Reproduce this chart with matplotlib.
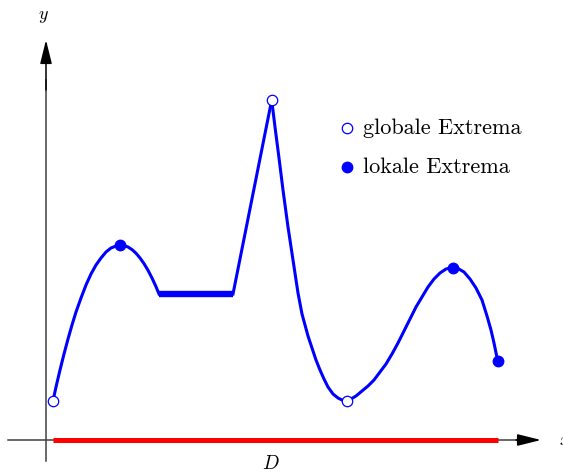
#! /usr/bin/python

"""
Extrema of a function on its domain D: global and local extrema.
"""

# LIBRARIES
import matplotlib as mpl
mpl.use("Agg")
import matplotlib.pyplot as plt



# DATA (origin = crossing of the axes)
rise_x = [7, 10, 14, 18, 22, 26, 30, 35, 40, 45, 50, 55, 60, 65, 70, 74,
          78, 82, 86, 90, 94, 98, 102, 106, 110, 113]
rise_y = [39, 53, 70, 86, 101, 115, 128, 142, 155, 166, 175, 182, 188, 192, 194, 195,
          194.5, 193, 190.4, 186.8, 182, 176.4, 169.7, 162, 153.3, 146]

plateau_x = [113, 187]
plateau_y = [146, 146]

peak_x = [187, 225.7]
peak_y = [146, 340]

fall_x = [225.7, 229, 233, 237, 242, 247, 252, 256, 259, 262, 266, 270, 274,
          278, 282, 287, 292, 296, 300.7,
          305, 310, 316, 322, 328, 334, 340, 346, 352, 358, 364, 370, 376,
          382, 388, 394, 400, 406.7, 412, 418, 424, 430, 436, 441, 445, 448, 451.7]
fall_y = [340, 313, 282, 250, 213, 180, 147, 126, 115, 104, 92, 80, 70,
          61, 53, 46, 42, 40, 39.5,
          41, 44, 49, 54, 60, 68, 76, 86, 97, 109, 121, 133, 143,
          153, 161, 167, 171, 172.5, 171.5, 168, 161, 152, 140, 124, 110, 97, 79]

global_x = [7, 225.7, 300.7]
global_y = [39, 340, 39.5]

local_x = [74, 406.7, 451.7]
local_y = [195, 172.5, 79]

domain_x = [7, 451.7]
domain_y = [0, 0]

legend_labels = ["globale Extrema", "lokale Extrema"]



def arrow(ax, start, end):

    """
    Draw an axis with a black arrow head.
    """

    ax.annotate("", xy = end, xytext = start,
                arrowprops = dict(arrowstyle = "-|>,head_length=1.45,head_width=0.36",
                                  mutation_scale = 10, lw = 1.1, color = "#404040",
                                  fc = "black", ec = "black", shrinkA = 0, shrinkB = 0))



def main():

    mpl.rcParams["mathtext.fontset"] = "cm"

    fig = plt.figure(figsize = (5.63, 4.73), dpi = 100)
    ax = fig.add_axes([0, 0, 1, 1])
    ax.set_xlim(-46, 517)
    ax.set_ylim(-33, 440)
    ax.axis("off")

    # Axes
    ax.plot([-38, 480], [0, 0], c = "#404040", lw = 1.1)
    ax.plot([0, 0], [-21, 360], c = "#404040", lw = 1.1)
    arrow(ax, (470, 0), (495, 0))
    arrow(ax, (0, 350), (0, 400))

    ax.text(-3, 424, "$y$", fontsize = 13, ha = "center", va = "center")
    ax.text(513, 0, "$x$", fontsize = 13, ha = "left", va = "center")
    ax.text(225, -23, "$D$", fontsize = 14, ha = "center", va = "center")

    # Domain
    ax.plot(domain_x, domain_y, c = "red", lw = 3.6, solid_capstyle = "butt")

    # Function
    ax.plot(rise_x, rise_y, c = "blue", lw = 2.2)
    ax.plot(plateau_x, plateau_y, c = "blue", lw = 4.6, solid_capstyle = "butt")
    ax.plot(peak_x, peak_y, c = "blue", lw = 2.2)
    ax.plot(fall_x, fall_y, c = "blue", lw = 2.2)

    # Extrema
    ax.plot(global_x, global_y, ls = "none", marker = "o", ms = 7.5,
            mfc = "white", mec = "blue", mew = 0.9, zorder = 5)
    ax.plot(local_x, local_y, ls = "none", marker = "o", ms = 7.5,
            mfc = "blue", mec = "blue", zorder = 5)

    # Legend
    ax.plot([301], [312], marker = "o", ms = 7.5, mfc = "white", mec = "blue", mew = 0.9)
    ax.plot([301], [273], marker = "o", ms = 7.5, mfc = "blue", mec = "blue")
    ax.text(317, 312, legend_labels[0], family = "cmr10", fontsize = 16,
            ha = "left", va = "center")
    ax.text(317, 273, legend_labels[1], family = "cmr10", fontsize = 16,
            ha = "left", va = "center")

    fig.savefig("out.png", dpi = 100)



# Run this when script is called from terminal
if __name__ == "__main__":
    main()
